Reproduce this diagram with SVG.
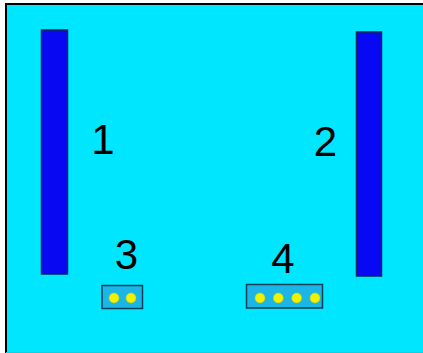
<svg xmlns="http://www.w3.org/2000/svg" width="423" height="353" viewBox="0 0 423 353">
<style>
.bar{fill:#0808f2;stroke:#02285a;stroke-width:1.5}
.lbl{font-family:"Liberation Sans",Arial,sans-serif;font-size:42px;fill:#000;text-anchor:middle}
.box{fill:#1ab6e8;stroke:#0b3f57;stroke-width:1.5}
.dot{fill:#f2f200;stroke:#c8c800;stroke-width:0.5}
</style>
<rect x="0" y="0" width="423" height="353" fill="#fff"/>
<rect x="6" y="4" width="417" height="349" fill="#00e6ff"/>
<path d="M6 353V4H423" fill="none" stroke="#000" stroke-width="2"/>
<line x1="6" y1="352.5" x2="423" y2="352.5" stroke="#14cfe0" stroke-width="1"/>
<g id="node1">
<rect class="bar" x="41.5" y="30" width="26" height="244"/>
<text class="lbl" x="103" y="154">1</text>
</g>
<g id="node2">
<rect class="bar" x="356.5" y="32" width="25" height="244"/>
<text class="lbl" x="325.5" y="156">2</text>
</g>
<g id="node3">
<text class="lbl" x="126.5" y="269">3</text>
<rect class="box" x="102" y="285.5" width="40.5" height="23"/>
<circle class="dot" cx="114" cy="298" r="5"/>
<circle class="dot" cx="131" cy="298" r="5"/>
</g>
<g id="node4">
<text class="lbl" x="283" y="273">4</text>
<rect class="box" x="246.5" y="284.5" width="76" height="23.5"/>
<circle class="dot" cx="260" cy="298" r="5"/>
<circle class="dot" cx="278.3" cy="298" r="5"/>
<circle class="dot" cx="296.7" cy="298" r="5"/>
<circle class="dot" cx="315" cy="298" r="5"/>
</g>
<g id="connectors"/>
</svg>
